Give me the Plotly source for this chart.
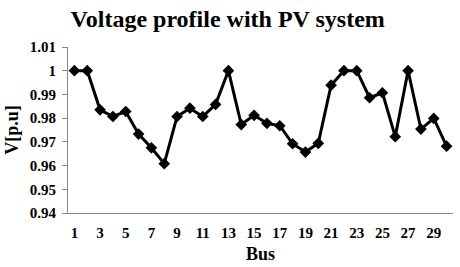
import plotly.graph_objects as go

bus = list(range(1, 31))
voltage = [1.000, 1.000, 0.9835, 0.9807, 0.9828, 0.9733, 0.9675, 0.9608, 0.9807, 0.9842,
           0.9807, 0.9858, 1.000, 0.9773, 0.9812, 0.9778, 0.9768, 0.9692, 0.9657, 0.9694,
           0.9939, 1.000, 1.000, 0.9886, 0.9907, 0.9722, 1.000, 0.9754, 0.9799, 0.9682]
y_tickvals = [0.94, 0.95, 0.96, 0.97, 0.98, 0.99, 1.00, 1.01]
y_ticktext = ["0.94", "0.95", "0.96", "0.97", "0.98", "0.99", "1", "1.01"]
x_tickvals = list(range(1, 30, 2))
x_ticktext = [str(v) for v in x_tickvals]

FONT = "Liberation Serif, Times New Roman, serif"

fig = go.Figure(go.Scatter(
    x=bus, y=voltage, mode="lines+markers",
    line=dict(color="black", width=3),
    marker=dict(symbol="diamond", size=9, color="black"),
    cliponaxis=False,
))

fig.update_layout(
    width=460, height=267,
    margin=dict(l=68, r=7, t=47, b=54, autoexpand=False),
    paper_bgcolor="white", plot_bgcolor="white",
    showlegend=False,
    font=dict(family=FONT, color="black", size=15, weight="bold"),
    title=dict(text="Voltage profile with PV system", x=0.495, xanchor="center",
               y=0.93, yanchor="middle", automargin=False,
               font=dict(family=FONT, size=24, color="black", weight="bold")),
)
fig.update_xaxes(
    range=[0.5, 30.5], tickvals=x_tickvals, ticktext=x_ticktext,
    showline=True, linecolor="#888888", linewidth=1, showgrid=False, zeroline=False,
    ticks="", ticklabelstandoff=6, automargin=False,
    title=dict(text="Bus", font=dict(family=FONT, size=18, weight="bold"), standoff=7),
    tickfont=dict(family=FONT, size=15, weight="bold"),
)
fig.update_yaxes(
    range=[0.94, 1.01], tickvals=y_tickvals, ticktext=y_ticktext,
    showline=True, linecolor="#888888", linewidth=1, showgrid=False, zeroline=False,
    ticks="outside", ticklen=5, tickcolor="#888888", automargin=False,
    ticklabelstandoff=3,
    title=dict(text="V[p.u]", font=dict(family=FONT, size=18, weight="bold"), standoff=6),
    tickfont=dict(family=FONT, size=15, weight="bold"),
)

fig.write_html("out.html", config={"displayModeBar": False},
               post_script="document.body.style.margin='0';document.body.style.overflow='hidden';")
